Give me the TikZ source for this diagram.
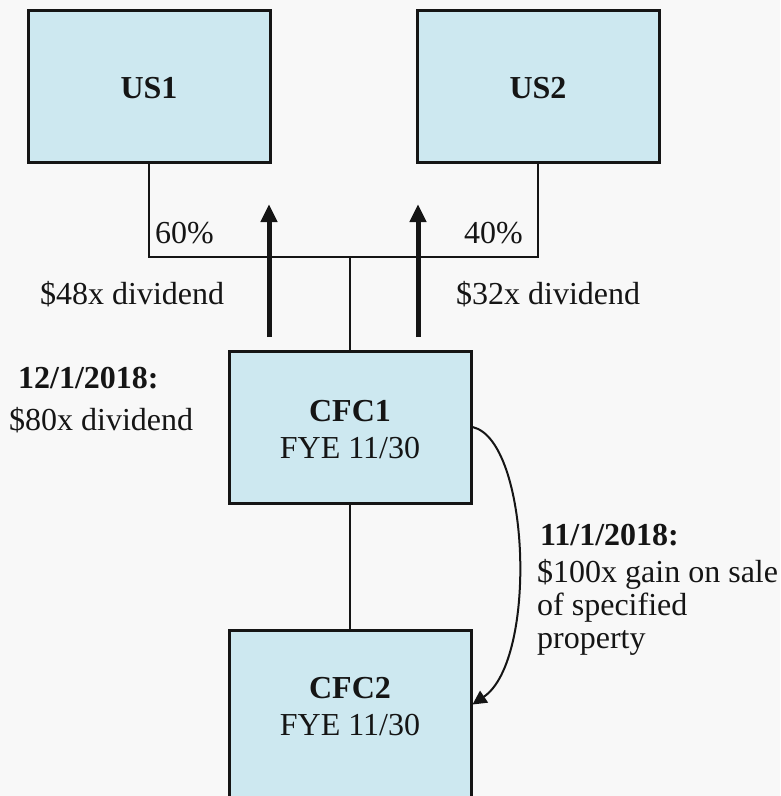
\documentclass[tikz,border=0pt]{standalone}
\usepackage{fontspec}
\setmainfont{Liberation Serif}
\usetikzlibrary{arrows.meta,calc}
\definecolor{bgc}{HTML}{F8F8F8}
\definecolor{boxc}{HTML}{CDE8F0}
\definecolor{inkc}{HTML}{151515}
\begin{document}
\begin{tikzpicture}[x=1pt,y=-1pt,
  entity/.style={draw=inkc,line width=3pt,fill=boxc,minimum width=242pt,minimum height=152pt,inner sep=0pt},
  lbl/.style={inner sep=0pt,anchor=base west,text=inkc,font=\fontsize{32}{33}\selectfont},
  blbl/.style={lbl,font=\fontsize{32}{33}\selectfont\bfseries},
  ctitle/.style={inner sep=0pt,anchor=base,text=inkc,font=\fontsize{32}{33}\selectfont\bfseries},
  csub/.style={inner sep=0pt,anchor=base,text=inkc,font=\fontsize{32}{33}\selectfont},
  thin/.style={draw=inkc,line width=1.5pt},
  flow/.style={draw=inkc,line width=5pt,-{Triangle[length=18pt,width=16pt]}},
  sale/.style={draw=inkc,line width=2pt,-{Triangle[length=14pt,width=14pt]}}]
\fill[bgc] (0,0) rectangle (780,796);
\useasboundingbox (0,0) rectangle (780,796);
\begin{scope}
\clip (0,0) rectangle (780,796);
\node[entity] (us1) at (149,86) {};
\node[entity] (us2) at (538,86) {};
\node[entity] (cfc1) at (350,427) {};
\node[entity,minimum height=200pt] (cfc2) at (350,730) {};
\coordinate (jn) at (350,257);
\draw[thin] (us1.south) |- (jn) -| (us2.south);
\draw[thin] (jn) -- (cfc1.north);
\draw[thin] (cfc1.south) -- (cfc2.north);
\coordinate (a1s) at (269,337);
\coordinate (a1e) at (269,204);
\coordinate (a2s) at (418,337);
\coordinate (a2e) at (418,204);
\draw[flow] (a1s) -- (a1e);
\draw[flow] (a2s) -- (a2e);
\coordinate (c2in) at ($(cfc2.north east)+(0,76)$);
\draw[sale] (cfc1.east) .. controls (530,440) and (538,660) .. (c2in);
\node[ctitle] (t1) at (149,98) {US1};
\node[ctitle] (t2) at (538,98) {US2};
\node[ctitle] (t3) at (350,421) {CFC1};
\node[csub] (t4) at (350,458) {FYE 11/30};
\node[ctitle] (t5) at (350,698) {CFC2};
\node[csub] (t6) at (350,735) {FYE 11/30};
\end{scope}
\node[lbl] (p60) at (155,243) {60\%};
\node[lbl,anchor=base east] (p40) at (523,243) {40\%};
\node[lbl] (d48) at (40,304) {\$48x dividend};
\node[lbl] (d32) at (456,304) {\$32x dividend};
\node[blbl] (dt1) at (18,388) {12/1/2018:};
\node[lbl] (d80) at (9,430) {\$80x dividend};
\node[blbl] (dt2) at (540,545) {11/1/2018:};
\node[lbl] (g1) at (537,582) {\$100x gain on sale};
\node[lbl] (g2) at (537,615) {of specified};
\node[lbl] (g3) at (537,648) {property};
\end{tikzpicture}
\end{document}
